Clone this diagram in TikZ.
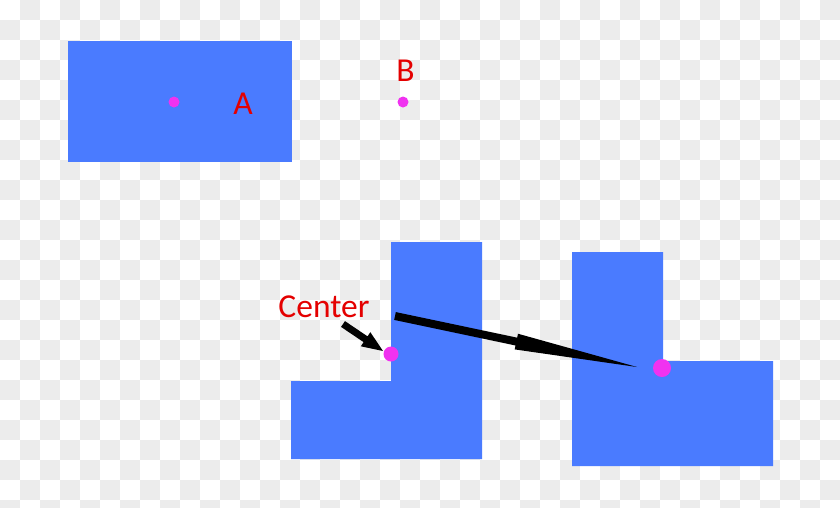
\documentclass[tikz,border=0pt]{standalone}
\usepackage{fontspec}
\setmainfont{Carlito}
\usetikzlibrary{calc}
\definecolor{shapeblue}{RGB}{74,123,255}
\definecolor{dotmag}{RGB}{240,50,240}
\definecolor{labelred}{RGB}{228,0,0}
\definecolor{checkgray}{RGB}{236,236,236}
\tikzset{
  shapefill/.style={fill=shapeblue},
  dotfill/.style={fill=dotmag},
  lbl/.style={text=labelred,inner sep=0pt,anchor=base,font=\fontsize{33.5}{40}\selectfont},
  arrowfill/.style={fill=black}
}
\begin{document}
\begin{tikzpicture}[x=1pt,y=-1pt]
\useasboundingbox (0,0) rectangle (840,507);
\fill[white] (0,0) rectangle (840,507);
\begin{scope}
\clip (0,0) rectangle (840,507);
\foreach \i in {0,...,41}{
  \foreach \j in {0,...,25}{
    \pgfmathtruncatemacro{\myparity}{mod(\i+\j,2)}
    \ifnum\myparity=1
      \fill[checkgray] (\i*20,\j*20) rectangle ++(20,20);
    \fi
  }
}
\end{scope}
% shapes
\fill[shapefill] (68,41) rectangle (292,162);
\fill[shapefill] (391,242) -- (482,242) -- (482,459) -- (291,459) -- (291,381) -- (391,381) -- cycle;
\fill[shapefill] (572,252) -- (663,252) -- (663,361) -- (773,361) -- (773,466) -- (572,466) -- cycle;
% dots
\fill[dotfill] (174,102) circle (5.5);
\fill[dotfill] (403,102) circle (5.5);
% labels
\node[lbl] (la) at (243,114) {A};
\node[lbl] (lb) at (405.5,81) {B};
\node[lbl] (lc) at (324,317) {Center};
% big arrow
\coordinate (s) at (395,316);
\coordinate (t) at (637,367);
\coordinate (hb) at ($(s)!124pt!(t)$);
\fill[arrowfill] ($(s)!4pt!90:(t)$) -- ($(hb)!4pt!90:(t)$) -- ($(hb)!8pt!90:(t)$) -- (t)
  -- ($(hb)!8pt!-90:(t)$) -- ($(hb)!4pt!-90:(t)$) -- ($(s)!4pt!-90:(t)$) -- cycle;
% small arrow
\coordinate (cs) at (343,324);
\coordinate (ct) at (383,351);
\coordinate (chb) at ($(ct)!21pt!(cs)$);
\fill[arrowfill] ($(cs)!3.5pt!90:(ct)$) -- ($(chb)!3.5pt!90:(ct)$) -- ($(chb)!8.5pt!90:(ct)$) -- (ct)
  -- ($(chb)!8.5pt!-90:(ct)$) -- ($(chb)!3.5pt!-90:(ct)$) -- ($(cs)!3.5pt!-90:(ct)$) -- cycle;
% dots on L shapes
\fill[dotfill] (391,354) circle (7.5);
\fill[dotfill] (662,368) circle (9);
\end{tikzpicture}
\end{document}
